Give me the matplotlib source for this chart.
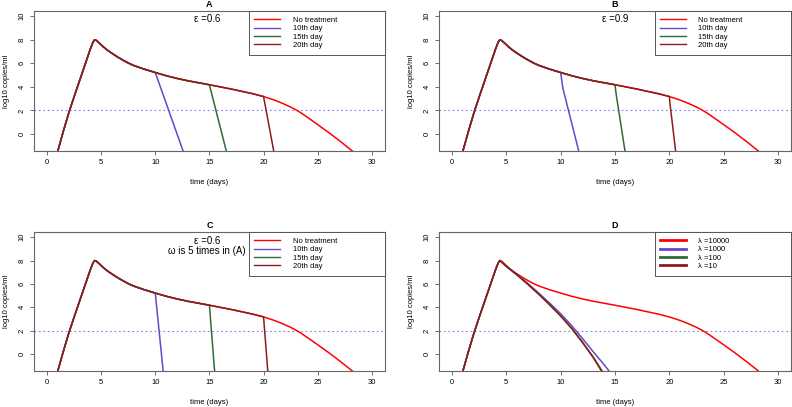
import matplotlib
matplotlib.use("Agg")
import matplotlib.pyplot as plt

plt.rcParams['font.family'] = ['Liberation Sans', 'DejaVu Sans']

# baseline (no treatment) viral load, log10 copies/ml
base_t = [1.0, 1.5, 2.0, 2.5, 3.0, 3.5, 4.0, 4.25, 4.4, 4.55, 4.8, 5.2, 5.6, 6.0,
          6.5, 7.0, 7.5, 8.0, 9.0, 10.0, 11.0, 12.0, 13.0, 14.0, 15.0, 16.0,
          17.0, 18.0, 19.0, 20.0, 21.0, 21.5, 22.0, 22.5, 23.0, 23.5, 24.0,
          25.0, 26.0, 27.0, 28.2]
base_v = [-1.44, 0.2, 1.75, 3.15, 4.5, 5.85, 7.2, 7.8, 8.0, 7.95, 7.75, 7.4, 7.1, 6.85,
          6.55, 6.28, 6.03, 5.82, 5.5, 5.22, 4.95, 4.72, 4.52, 4.35, 4.18, 4.0,
          3.82, 3.62, 3.42, 3.18, 2.88, 2.7, 2.5, 2.29, 2.05, 1.77, 1.45,
          0.8, 0.14, -0.56, -1.44]

# post-treatment decay (after start day) for each panel
a_t10, a_v10 = [12.57], [-1.44]
a_t15, a_v15 = [16.56], [-1.44]
a_t20, a_v20 = [20.94], [-1.44]

b_t10, b_v10 = [10.2, 11.66], [3.9, -1.44]
b_t15, b_v15 = [15.12, 15.92], [3.3, -1.44]
b_t20, b_v20 = [20.06, 20.58], [2.6, -1.44]

c_t10, c_v10 = [10.73], [-1.44]
c_t15, c_v15 = [15.48], [-1.44]
c_t20, c_v20 = [20.39], [-1.44]

# panel D, different lambda (after peak)
d_t = [5.0, 6.0, 7.0, 8.0, 9.0, 10.0, 11.0, 12.0, 13.0, 13.75]
d_v10 = [7.5, 6.75, 5.95, 5.1, 4.2, 3.25, 2.2, 1.0, -0.3, -1.44]
d_t100 = [5.0, 6.0, 7.0, 8.0, 9.0, 10.0, 11.0, 12.0, 13.0, 13.82]
d_v100 = [7.5, 6.76, 5.97, 5.12, 4.23, 3.28, 2.24, 1.05, -0.25, -1.44]
d_t1000 = [5.0, 6.0, 7.0, 8.0, 9.0, 10.0, 11.0, 12.0, 13.0, 14.0, 14.45]
d_v1000 = [7.52, 6.8, 6.02, 5.2, 4.35, 3.45, 2.45, 1.35, 0.2, -0.9, -1.44]

labels_abc = ["No treatment", "10th day", "15th day", "20th day"]
labels_d = ["\u03bb =10000", "\u03bb =1000", "\u03bb =100", "\u03bb =10"]
colors = ["#FF0000", "#6A45C8", "#2F6B35", "#8E1B1B"]
peak = 4.4


def treated(day, post_t, post_v):
    t = [x for x in base_t if x <= day]
    v = [y for x, y in zip(base_t, base_v) if x <= day]
    return t + post_t, v + post_v


def setup(ax, title):
    ax.set_xlim(-1.2, 31.2)
    ax.set_ylim(-1.44, 10.44)
    ax.set_xticks(range(0, 31, 5))
    ax.set_yticks(range(0, 11, 2))
    ax.tick_params(labelsize=5.5, length=3, width=0.6, color="#555555", pad=3)
    for lab in ax.get_yticklabels():
        lab.set_rotation(90)
        lab.set_va("center")
    for s in ax.spines.values():
        s.set_color("#666666")
        s.set_linewidth(0.8)
    ax.axhline(2, color="#8080EE", lw=0.8, ls=(0, (1.5, 2.5)))
    ax.set_xlabel("time (days)", fontsize=5.5, labelpad=9)
    ax.set_ylabel("log10 copies/ml", fontsize=5.5, labelpad=6)
    ax.set_title(title, fontsize=6.5, fontweight="bold", pad=3)


def legend(ax, handles, labels, lw):
    leg = ax.legend(handles, labels, loc="upper left",
                    bbox_to_anchor=(0.613, 0, 0.387, 1.0),
                    mode="expand", borderaxespad=0, fontsize=5.5, fancybox=False,
                    edgecolor="#555555", framealpha=1, handlelength=3.4,
                    handletextpad=1.6, labelspacing=0.15, borderpad=0.7)
    leg.get_frame().set_linewidth(0.7)
    for h in leg.get_lines():
        h.set_linewidth(lw)


fig = plt.figure(figsize=(7.92, 4.07), dpi=100)
axA = fig.add_axes([0.0429, 0.629, 0.443, 0.344])
axB = fig.add_axes([0.5543, 0.629, 0.4444, 0.344])
axC = fig.add_axes([0.0429, 0.0885, 0.443, 0.3415])
axD = fig.add_axes([0.5543, 0.0885, 0.4444, 0.3415])

panels = [
    (axA, "A", [(10, a_t10, a_v10), (15, a_t15, a_v15), (20, a_t20, a_v20)]),
    (axB, "B", [(10, b_t10, b_v10), (15, b_t15, b_v15), (20, b_t20, b_v20)]),
    (axC, "C", [(10, c_t10, c_v10), (15, c_t15, c_v15), (20, c_t20, c_v20)]),
]
for ax, title, series in panels:
    setup(ax, title)
    handles = ax.plot(base_t, base_v, color=colors[0], lw=1.1)
    for (day, pt, pv), c in zip(series, colors[1:]):
        t, v = treated(day, pt, pv)
        handles += ax.plot(t, v, color=c, lw=1.1)
    legend(ax, handles, labels_abc, 1.0)

axA.text(14.8, 9.72, "\u03b5 =0.6", ha="center", va="center", fontsize=7)
axB.text(15.0, 9.72, "\u03b5 =0.9", ha="center", va="center", fontsize=7)
axC.text(14.8, 9.65, "\u03b5 =0.6", ha="center", va="center", fontsize=7)
axC.text(14.8, 8.8, "\u03c9 is 5 times in (A)", ha="center", va="center", fontsize=7)

# panel D
setup(axD, "D")
rise_t = [x for x in base_t if x <= peak]
rise_v = [y for x, y in zip(base_t, base_v) if x <= peak]
hd = axD.plot(base_t, base_v, color=colors[0], lw=1.1)
hd += axD.plot(rise_t + d_t1000, rise_v + d_v1000, color=colors[1], lw=1.1)
hd += axD.plot(rise_t + d_t100, rise_v + d_v100, color=colors[2], lw=1.1)
hd += axD.plot(rise_t + d_t, rise_v + d_v10, color=colors[3], lw=1.1)
legend(axD, hd, labels_d, 2.0)

fig.savefig("out.png", dpi=100)
